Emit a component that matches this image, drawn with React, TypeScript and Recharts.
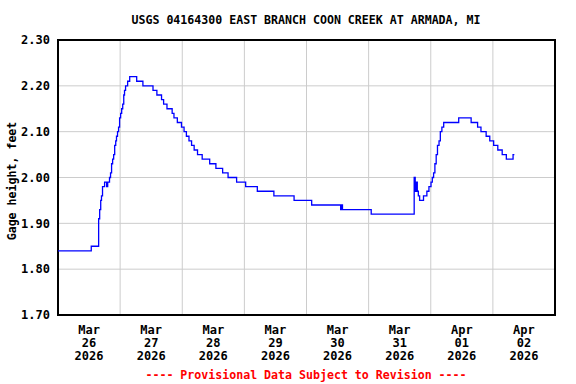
import { CartesianGrid, Line, LineChart, ReferenceArea, XAxis, YAxis } from 'recharts';

// hours since Mar 26 2026 00:00 where the gage reading changes
const hours = [
  0, 12.85, 15.7, 16.1, 16.5, 16.8, 17.2, 18.0, 18.8, 19.2, 19.9, 20.3, 20.7, 21.1, 21.5, 21.9, 22.3, 22.6,
  23.0, 23.4, 23.8, 24.2, 24.6, 25.0, 25.4, 25.7, 26.1, 26.9, 27.7, 30.4, 32.8, 36.7, 38.2, 40.0, 40.8, 42.1,
  44.1, 44.8, 46.1, 47.7, 48.7, 49.6, 50.6, 51.6, 52.6, 53.9, 55.7, 58.6, 61.0, 63.6, 65.7, 69.0, 72.5, 77.0,
  83.4, 91.2, 98.0, 109.2, 109.5, 109.9, 121.0, 137.6, 138.0, 138.4, 138.8, 139.2, 139.7, 141.2, 142.5, 143.3,
  144.1, 144.6, 145.1, 145.6, 146.1, 146.6, 147.2, 147.7, 148.3, 149.0, 154.8, 159.6, 162.1, 163.4, 165.4,
  166.8, 168.3, 169.9, 171.6, 173.2, 175.8, 176.3,
];
const gage = [
  1.84, 1.85, 1.91, 1.93, 1.95, 1.96, 1.98, 1.99, 1.98, 1.99, 2.0, 2.01, 2.03, 2.04, 2.05, 2.07, 2.08, 2.09,
  2.1, 2.11, 2.13, 2.14, 2.15, 2.16, 2.18, 2.19, 2.2, 2.21, 2.22, 2.21, 2.2, 2.19, 2.18, 2.17, 2.16, 2.15,
  2.14, 2.13, 2.12, 2.11, 2.1, 2.09, 2.08, 2.07, 2.06, 2.05, 2.04, 2.03, 2.02, 2.01, 2.0, 1.99, 1.98, 1.97,
  1.96, 1.95, 1.94, 1.93, 1.94, 1.93, 1.92, 2.0, 1.97, 1.99, 1.97, 1.96, 1.95, 1.96, 1.97, 1.98,
  1.99, 2.0, 2.01, 2.03, 2.05, 2.07, 2.08, 2.1, 2.11, 2.12, 2.13, 2.12, 2.11, 2.1, 2.09,
  2.08, 2.07, 2.06, 2.05, 2.04, 2.05, 2.05,
];

const tickHours = [12, 36, 60, 84, 108, 132, 156, 180];
const tickMonths = ['Mar', 'Mar', 'Mar', 'Mar', 'Mar', 'Mar', 'Apr', 'Apr'];
const tickDays = ['26', '27', '28', '29', '30', '31', '01', '02'];
const tickYears = ['2026', '2026', '2026', '2026', '2026', '2026', '2026', '2026'];
const gridHours = [24, 48, 72, 96, 120, 144, 168];
const yTicks = [1.7, 1.8, 1.9, 2.0, 2.1, 2.2, 2.3];

const data = hours.map((h, i) => ({ h, v: gage[i] }));

const FONT = '"DejaVu Sans Mono", monospace';

function DateTick(props: any) {
  const { x, y, payload } = props;
  const i = tickHours.indexOf(payload.value);
  return (
    <text x={x} y={y} textAnchor="middle" fontFamily={FONT} fontWeight="bold" fontSize={12} fill="#000">
      <tspan x={x} dy={11}>{tickMonths[i]}</tspan>
      <tspan x={x} dy={13}>{tickDays[i]}</tspan>
      <tspan x={x} dy={13}>{tickYears[i]}</tspan>
    </text>
  );
}

function GageChart() {
  return (
    <div style={{ position: 'absolute', left: 0, top: 0, width: 576, height: 384, background: '#fff' }}>
      <LineChart width={576} height={384} data={data} margin={{ top: 40, right: 21, bottom: 9, left: 0 }}>
        <CartesianGrid
          stroke="#cccccc"
          strokeWidth={1}
          verticalCoordinatesGenerator={({ offset }: any) =>
            gridHours.map((g) => offset.left + (g / 192) * offset.width)
          }
        />
        <XAxis
          dataKey="h"
          type="number"
          domain={[0, 192]}
          ticks={tickHours}
          tick={<DateTick />}
          tickLine={false}
          axisLine={false}
          height={60}
          interval={0}
        />
        <YAxis
          type="number"
          domain={[1.7, 2.3]}
          ticks={yTicks}
          tickFormatter={(v: number) => v.toFixed(2)}
          tick={{ fontFamily: FONT, fontWeight: 'bold', fontSize: 12, fill: '#000' }}
          tickLine={false}
          axisLine={false}
          width={58}
          interval={0}
        />
        <ReferenceArea x1={0} x2={192} y1={1.7} y2={2.3} fill="none" stroke="#000" strokeWidth={2} />
        <Line
          type="stepAfter"
          dataKey="v"
          stroke="#0000ff"
          strokeWidth={1.3}
          dot={false}
          isAnimationActive={false}
        />
      </LineChart>
      <svg width={576} height={384} style={{ position: 'absolute', left: 0, top: 0, pointerEvents: 'none' }}>
        <text x={306} y={24} textAnchor="middle" fontFamily={FONT} fontWeight="bold" fontSize={11.6} fill="#000">
          USGS 04164300 EAST BRANCH COON CREEK AT ARMADA, MI
        </text>
        <text
          x={16}
          y={181}
          transform="rotate(-90 16 181)"
          textAnchor="middle"
          fontFamily={FONT}
          fontWeight="bold"
          fontSize={11.6}
          fill="#000"
        >
          Gage height, feet
        </text>
        <text x={306} y={379} textAnchor="middle" fontFamily={FONT} fontWeight="bold" fontSize={11.6} fill="#ff0000">
          ---- Provisional Data Subject to Revision ----
        </text>
      </svg>
    </div>
  );
}

export default function App() {
  return <GageChart />;
}
